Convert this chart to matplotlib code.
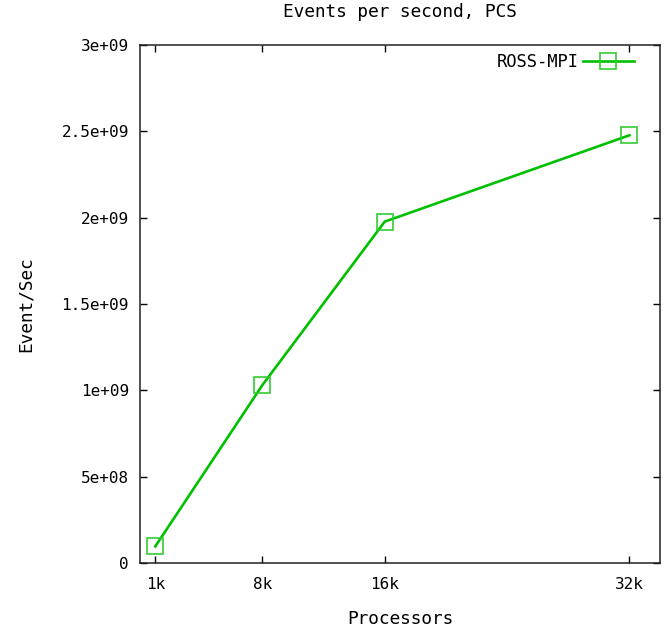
import matplotlib
matplotlib.use("Agg")
import matplotlib.pyplot as plt
from matplotlib.ticker import FuncFormatter

processors = [1, 8, 16, 32]          # thousands
tick_labels = ["1k", "8k", "16k", "32k"]
events_per_sec = [0.096e9, 1.03e9, 1.977e9, 2.477e9]
y_ticks = [0, 5e8, 1e9, 1.5e9, 2e9, 2.5e9, 3e9]

plt.rcParams['font.family'] = ['DejaVu Sans Mono']
plt.rcParams['font.size'] = 11.5

fig = plt.figure(figsize=(6.7, 6.32), dpi=100)
ax = fig.add_axes([140/670, 1 - 563/632, 520/670, (563-45)/632])

ax.plot(processors, events_per_sec, color='#00c000', linewidth=1.9,
        marker='s', markersize=12, markerfacecolor='none',
        markeredgecolor='#33cc33', markeredgewidth=1.2, label='ROSS-MPI')

ax.set_xlim(0, 34)
ax.set_ylim(0, 3e9)
ax.set_xticks(processors)
ax.set_xticklabels(tick_labels)
ax.set_yticks(y_ticks)

def fmt(v, pos):
    if v == 0:
        return "0"
    return "%g" % v
ax.yaxis.set_major_formatter(FuncFormatter(fmt))

ax.tick_params(direction='in', length=5, width=1, top=True, right=True,
               labelsize=11.5, pad=8, colors='black')
ax.tick_params(axis='x', pad=10)
for sp in ax.spines.values():
    sp.set_linewidth(1.1)
    sp.set_color('#222222')

ax.set_title("Events per second, PCS", fontsize=12.8, pad=20)
ax.set_xlabel("Processors", fontsize=12.8, labelpad=13)
ax.set_ylabel("Event/Sec", fontsize=12.8, labelpad=19)

ax.legend(loc='center right', bbox_to_anchor=(0.950, 0.967),
          frameon=False, markerfirst=False, numpoints=1,
          handlelength=3.0, fontsize=12.3, borderaxespad=0, borderpad=0,
          handletextpad=0.25)

fig.savefig("out.png", dpi=100)
